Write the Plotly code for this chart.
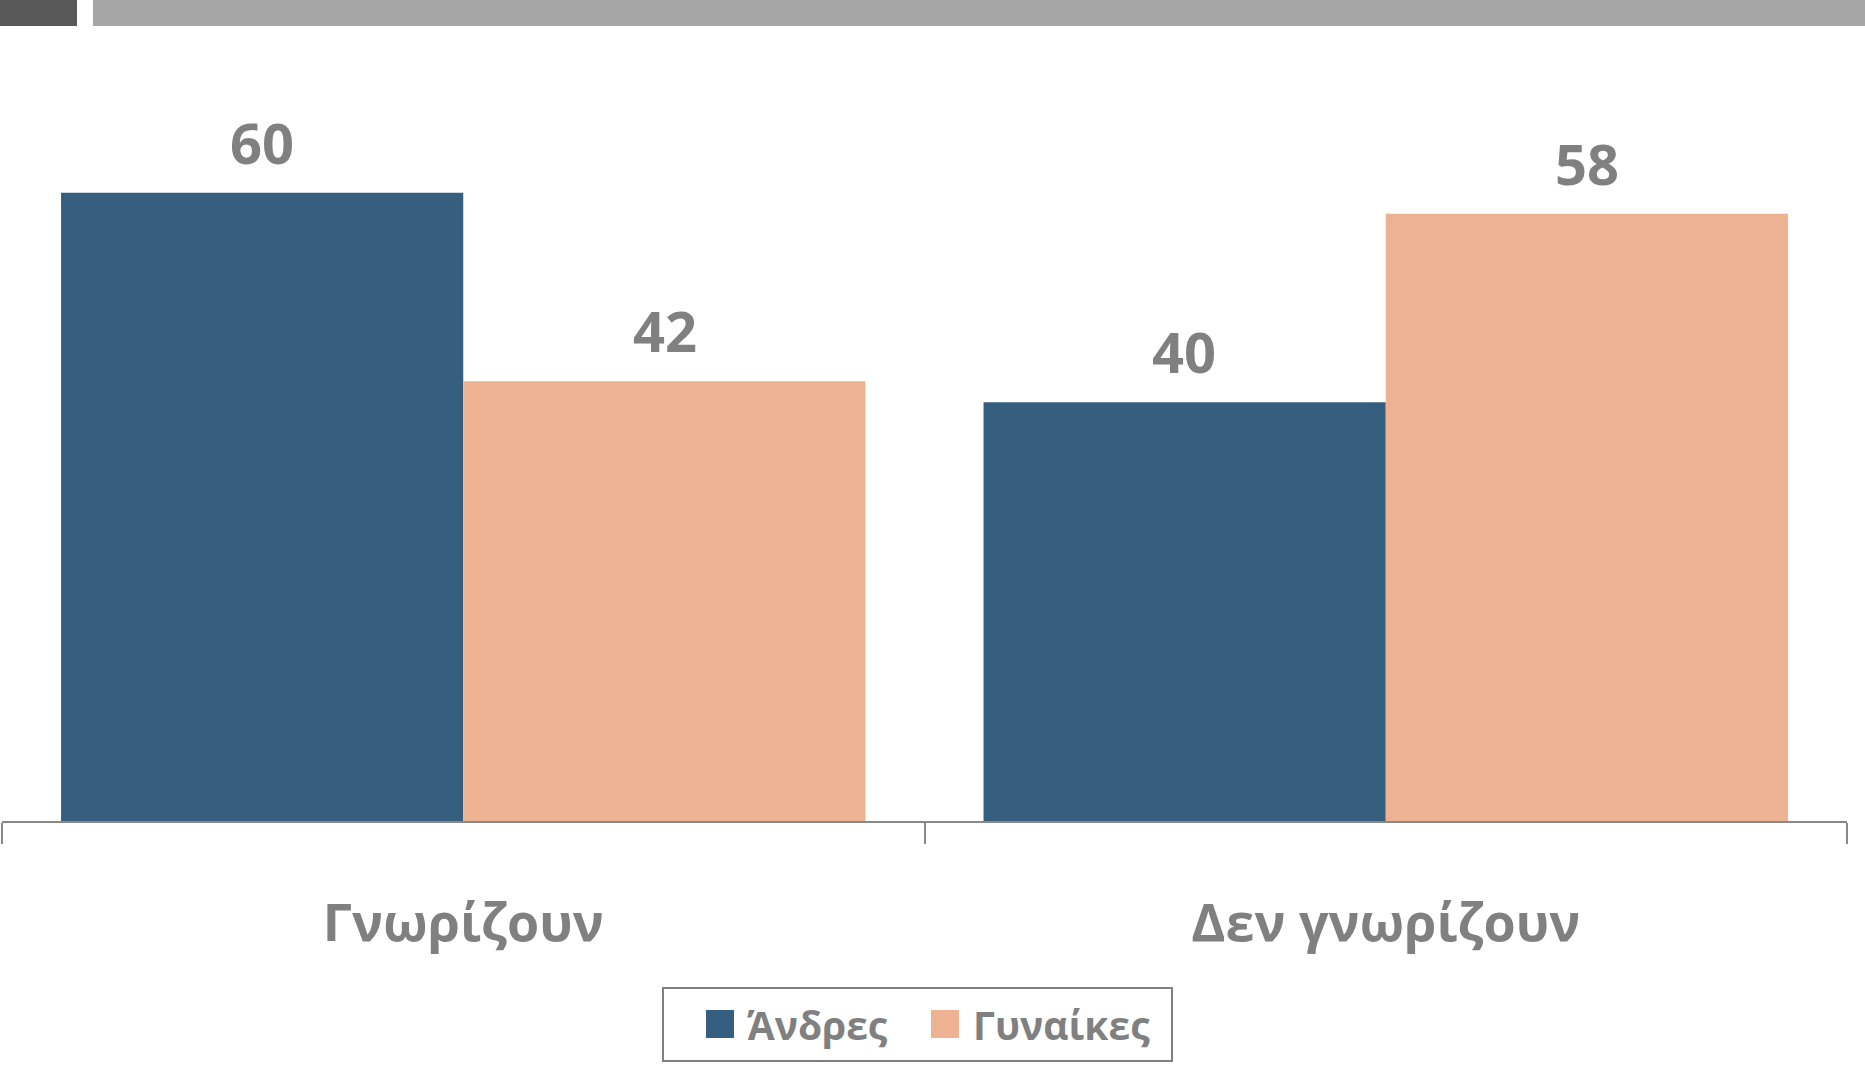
import plotly.graph_objects as go

categories = ["Γνωρίζουν", "Δεν γνωρίζουν"]
series_names = ["Άνδρες", "Γυναίκες"]
men = [60, 40]
women = [42, 58]
colors = ["#365E7E", "#ECB292"]
label_color = "#808080"
FONT = "Open Sans"

W, H = 1865, 1067
L, R, T, B = 2, 18, 88, 246
PW, PH = W - L - R, H - T - B

def px(x):
    return (x - L) / PW

def py(y):
    return (H - B - y) / PH

fig = go.Figure()
for name, vals, col in zip(series_names, [men, women], colors):
    fig.add_trace(go.Bar(
        x=categories, y=vals, name=name, marker=dict(color=col, line=dict(width=0)),
        showlegend=False, hoverinfo="skip",
    ))

annotations = []
for i, vals in enumerate([men, women]):
    for j, v in enumerate(vals):
        annotations.append(dict(
            x=categories[j], y=v, xref="x", yref="y",
            text=f"<b>{v}</b>", showarrow=False, yanchor="bottom",
            xshift=(-1 if i == 0 else 1) * 201.5, yshift=11,
            font=dict(family=FONT, size=56, color=label_color),
        ))

shapes = [
    dict(type="rect", xref="paper", yref="paper", x0=px(0), x1=px(77), y0=py(26), y1=py(0),
         fillcolor="#595959", line=dict(width=0), layer="above"),
    dict(type="rect", xref="paper", yref="paper", x0=px(93), x1=px(1865), y0=py(26), y1=py(0),
         fillcolor="#A6A6A6", line=dict(width=0), layer="above"),
    dict(type="rect", xref="paper", yref="paper", x0=px(663), x1=px(1172), y0=py(1061), y1=py(988),
         fillcolor="rgba(0,0,0,0)", line=dict(color="#808080", width=2)),
]
leg_items = [(706, 745), (931, 971)]
for (sx, tx), name, col in zip(leg_items, series_names, colors):
    shapes.append(dict(type="rect", xref="paper", yref="paper", x0=px(sx), x1=px(sx + 28),
                       y0=py(1038), y1=py(1010), fillcolor=col, line=dict(width=0)))
    annotations.append(dict(x=px(tx), y=py(1024), xref="paper", yref="paper", xanchor="left",
                            yanchor="middle", showarrow=False, text=f"<b>{name}</b>",
                            font=dict(family=FONT, size=39, color=label_color)))

fig.update_layout(
    width=W, height=H,
    margin=dict(l=L, r=R, t=T, b=B),
    paper_bgcolor="white", plot_bgcolor="white",
    barmode="group", bargap=0.128, bargroupgap=0,
    shapes=shapes, annotations=annotations,
    font=dict(family=FONT),
)
fig.update_xaxes(
    showline=True, linecolor="#888888", linewidth=2,
    ticks="outside", tickson="boundaries", ticklen=21, tickcolor="#888888", tickwidth=2,
    tickfont=dict(family=FONT, size=52, color=label_color),
    ticklabelstandoff=56, showgrid=False,
    tickprefix="<b>", ticksuffix="</b>",
)
fig.update_yaxes(range=[0, 70], visible=False, showgrid=False)

fig.write_html("out.html", config={"displayModeBar": False},
               post_script="document.body.style.margin='0';")
